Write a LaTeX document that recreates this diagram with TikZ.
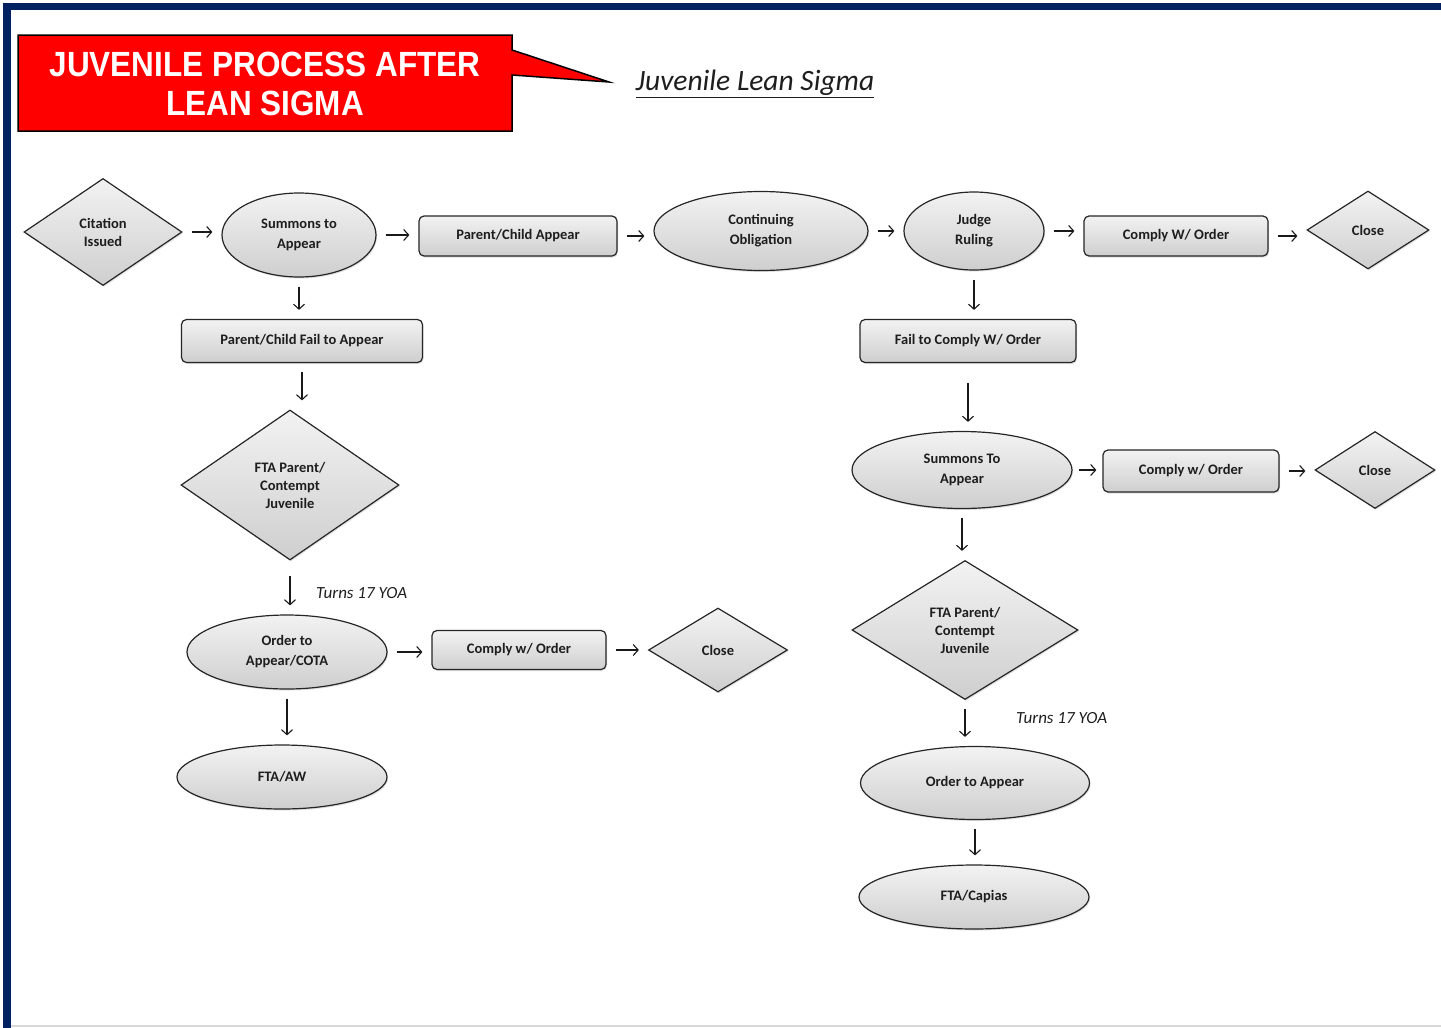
\documentclass[tikz,border=0pt]{standalone}
\usepackage{fontspec}
\setmainfont{Carlito}
\newfontfamily\titlefont[FakeStretch=0.9]{Liberation Sans}
\usetikzlibrary{shapes.geometric,arrows.meta,shadows}
\definecolor{frameblue}{RGB}{0,32,96}
\definecolor{calloutred}{RGB}{255,0,0}
\definecolor{inkgray}{RGB}{30,30,30}
\tikzset{
  base/.style={draw=black!85, line width=1.2pt, top color=gray!10, bottom color=gray!38,
    drop shadow={shadow xshift=1pt, shadow yshift=-1.5pt, opacity=0.25},
    text=inkgray, align=center, inner sep=0pt,
    font=\fontsize{14.5}{20}\selectfont\bfseries},
  term/.style={base, ellipse},
  proc/.style={base, rectangle, rounded corners=5pt},
  decide/.style={base, diamond, aspect=1.5, font=\fontsize{14.5}{18}\selectfont\bfseries},
  sz/.style 2 args={minimum width=#1, minimum height=#2},
  flow/.style={draw=black!90, line width=1.1pt, -{Straight Barb[length=5pt,width=11pt]},
    shorten <=9pt, shorten >=9pt},
  note/.style={text=inkgray, font=\fontsize{17}{20}\selectfont\itshape, inner sep=0pt}
}
\begin{document}
\begin{tikzpicture}[x=1pt,y=-1pt]
\useasboundingbox (0,0) rectangle (1441,1028);
\fill[white] (0,0) rectangle (1441,1028);
% frame
\fill[frameblue] (3,3) rectangle (1441,10);
\fill[frameblue] (3,3) rectangle (11,1028);
\draw[gray!30, line width=1.5pt] (11,1026) -- (1441,1026);
% title callout
\draw[black, line width=1.5pt, fill=calloutred, line join=miter]
  (18,35) -- (512,35) -- (512,50) -- (609,82) -- (512,75) -- (512,131) -- (18,131) -- cycle;
\node[text=white, align=center, font={\titlefont\fontsize{35}{39}\selectfont\bfseries}]
  (title) at (265,84) {JUVENILE PROCESS AFTER\\LEAN SIGMA};
\node[text=inkgray, font=\fontsize{29.5}{32}\selectfont\itshape]
  (lean) at (755,84) {\underline{Juvenile Lean Sigma}};

% top row
\node[decide, sz={158}{107}] (cit) at (103,232) {Citation\\Issued};
\node[term, sz={154}{84}] (sumA) at (299,235) {Summons to\\Appear};
\node[proc, sz={198}{40}] (pcApp) at (518,236) {Parent/Child Appear};
\node[term, sz={214}{79}] (contOb) at (761,231) {Continuing\\Obligation};
\node[term, sz={140}{78}] (judge) at (974,231) {Judge\\Ruling};
\node[proc, sz={184}{40}] (compA) at (1176,236) {Comply W/ Order};
\node[decide, sz={122}{78}] (closeA) at (1368,230) {Close};

% left branch
\node[proc, sz={241}{43}] (pcFail) at (302,341) {Parent/Child Fail to Appear};
\node[decide, sz={218}{150}] (ftaA) at (290,485) {FTA Parent/\\Contempt\\Juvenile};
\node[note, anchor=west] (turnsA) at (316,593) {Turns 17 YOA};
\node[term, sz={200}{74}] (ordA) at (287,652) {Order to\\Appear/COTA};
\node[proc, sz={174}{39}] (compB) at (519,650) {Comply w/ Order};
\node[decide, sz={139}{84}] (closeB) at (718,650) {Close};
\node[term, sz={210}{64}] (ftaw) at (282,777) {FTA/AW};

% right branch
\node[proc, sz={216}{43}] (failC) at (968,341) {Fail to Comply W/ Order};
\node[term, sz={220}{77}] (sumB) at (962,470) {Summons To\\Appear};
\node[proc, sz={176}{42}] (compC) at (1191,471) {Comply w/ Order};
\node[decide, sz={120}{77}] (closeC) at (1375,470) {Close};
\node[decide, sz={226}{139}] (ftaB) at (965,630) {FTA Parent/\\Contempt\\Juvenile};
\node[note, anchor=west] (turnsB) at (1016,718) {Turns 17 YOA};
\node[term, sz={229}{73}] (ordB) at (975,783) {Order to Appear};
\node[term, sz={230}{64}] (capias) at (974,897) {FTA/Capias};

% connectors
\path (cit.east) edge[flow] (cit.east -| sumA.west)
      (sumA.east) edge[flow] (sumA.east -| pcApp.west)
      (pcApp.east) edge[flow] (pcApp.east -| contOb.west)
      (contOb.east) edge[flow] (contOb.east -| judge.west)
      (judge.east) edge[flow] (judge.east -| compA.west)
      (compA.east) edge[flow] (compA.east -| closeA.west)
      (sumA.south) edge[flow] (sumA.south |- pcFail.north)
      (pcFail.south) edge[flow] (pcFail.south |- ftaA.north)
      (ftaA.south) edge[flow, shorten <=15pt] (ftaA.south |- ordA.north)
      (ordA.east) edge[flow] (ordA.east -| compB.west)
      (compB.east) edge[flow] (compB.east -| closeB.west)
      (ordA.south) edge[flow] (ordA.south |- ftaw.north)
      (judge.south) edge[flow] (judge.south |- failC.north)
      (failC.south) edge[flow, shorten <=20pt] (failC.south |- sumB.north)
      (sumB.east) edge[flow, shorten <=6pt, shorten >=6pt] (sumB.east -| compC.west)
      (compC.east) edge[flow] (compC.east -| closeC.west)
      (sumB.south) edge[flow] (sumB.south |- ftaB.north)
      (ftaB.south) edge[flow] (ftaB.south |- ordB.north)
      (ordB.south) edge[flow] (ordB.south |- capias.north);
\end{tikzpicture}
\end{document}
